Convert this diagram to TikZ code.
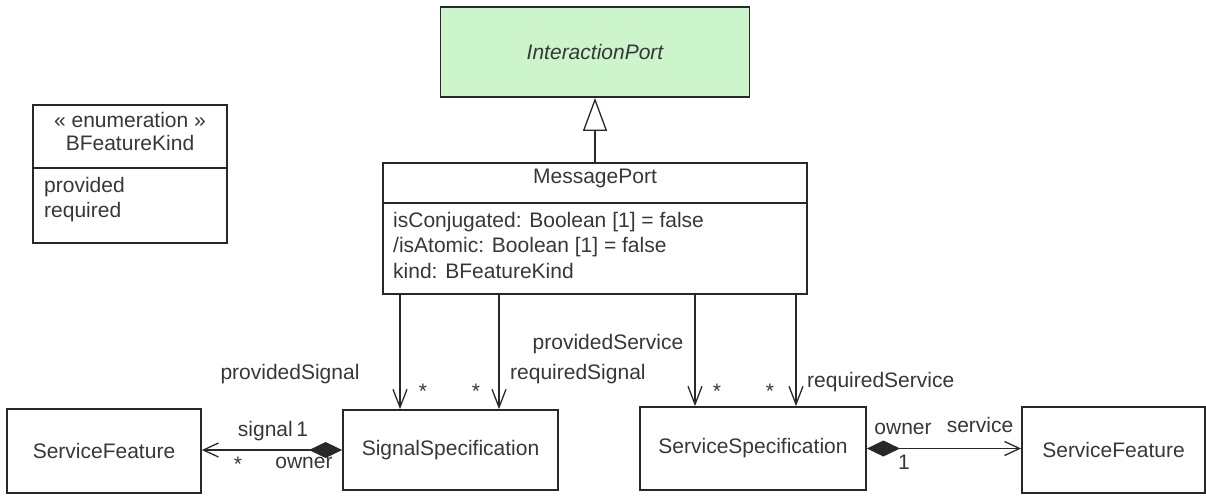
\documentclass[tikz,border=0pt]{standalone}
\usepackage{fontspec}
\setmainfont{Liberation Sans}
\usetikzlibrary{arrows.meta}
\definecolor{ipgreen}{RGB}{204,245,204}
\definecolor{ink}{RGB}{40,40,40}
\definecolor{txt}{RGB}{55,55,55}
\begin{document}
\begin{tikzpicture}[x=1pt,y=-1pt,
  font=\fontsize{21}{25}\selectfont,
  box/.style={draw=ink, line width=1.8pt, inner sep=0pt, text=txt},
  divider/.style={draw=ink, line width=1.8pt},
  lbl/.style={inner sep=0pt, anchor=mid, text=txt},
  assoc/.style={draw=ink, line width=1.3pt, -{Straight Barb[length=18pt,width=14pt]}},
  comp/.style={draw=ink, line width=1.3pt, {Diamond[length=33pt,width=16pt,fill=ink]}-{Straight Barb[length=15pt,width=14pt]}},
  gen/.style={draw=ink, line width=1.3pt, -{Triangle[open,length=33pt,width=24pt,fill=white]}}]

\useasboundingbox (0,0) rectangle (1206,495);

% classes
\node[box, fill=ipgreen, minimum width=309pt, minimum height=90pt, font=\fontsize{21}{25}\selectfont\itshape] (ip) at (595,52) {InteractionPort};

\node[box, minimum width=194pt, minimum height=138pt] (enum) at (130,174) {};
\draw[divider] (enum.west |- 0,168) -- (enum.east |- 0,168);
\node[lbl] (enumst) at (130,125) {« enumeration »};
\node[lbl] (enumnm) at (130,148) {BFeatureKind};
\node[lbl, anchor=mid west] (lit1) at (44,190) {provided};
\node[lbl, anchor=mid west] (lit2) at (44,215) {required};

\node[box, minimum width=424pt, minimum height=131pt] (mp) at (595,228.5) {};
\draw[divider] (mp.west |- 0,203) -- (mp.east |- 0,203);
\node[lbl] (mpname) at (595,181) {MessagePort};
\node[lbl, anchor=mid west] (att1) at (393,225) {isConjugated: Boolean [1] = false};
\node[lbl, anchor=mid west] (att2) at (393,250) {/isAtomic: Boolean [1] = false};
\node[lbl, anchor=mid west] (att3) at (393,276) {kind: BFeatureKind};

\node[box, minimum width=194pt, minimum height=84pt] (sf1) at (104,451) {ServiceFeature};
\node[box, minimum width=215pt, minimum height=80pt] (ss) at (450.5,450) {SignalSpecification};
\node[box, minimum width=226pt, minimum height=83pt] (svs) at (753,448.5) {ServiceSpecification};
\node[box, minimum width=183pt, minimum height=86pt] (sf2) at (1113.5,450) {ServiceFeature};

% connectors
\draw[gen] (mp.north) -- (ip.south);
\draw[assoc] (mp.south -| 400,0) -- (ss.north -| 400,0);
\draw[assoc] (mp.south -| 499,0) -- (ss.north -| 499,0);
\draw[assoc] (mp.south -| 695,0) -- (svs.north -| 695,0);
\draw[assoc] (mp.south -| 796,0) -- (svs.north -| 796,0);
\draw[comp] (ss.west) -- (sf1.east |- ss.west);
\draw[comp] (svs.east) -- (sf2.west |- svs.east);

% labels
\node[lbl] (lpsig) at (290,377) {providedSignal};
\node[lbl] (m1) at (423,395.5) {*};
\node[lbl] (m2) at (476,395.5) {*};
\node[lbl, anchor=mid west] (lrsig) at (510,377) {requiredSignal};
\node[lbl] (lpsvc) at (608,347) {providedService};
\node[lbl] (m3) at (717,395.5) {*};
\node[lbl] (m4) at (770,395.5) {*};
\node[lbl, anchor=mid west] (lrsvc) at (807,385) {requiredService};

\node[lbl] (lsignal) at (273,434) {signal\,1};
\node[lbl] (m5) at (238,468.5) {*};
\node[lbl] (lown1) at (304,466) {owner};

\node[lbl] (lown2) at (903,432) {owner};
\node[lbl] (lservice) at (980,430) {service};
\node[lbl] (m6) at (904,467) {1};
\end{tikzpicture}
\end{document}
